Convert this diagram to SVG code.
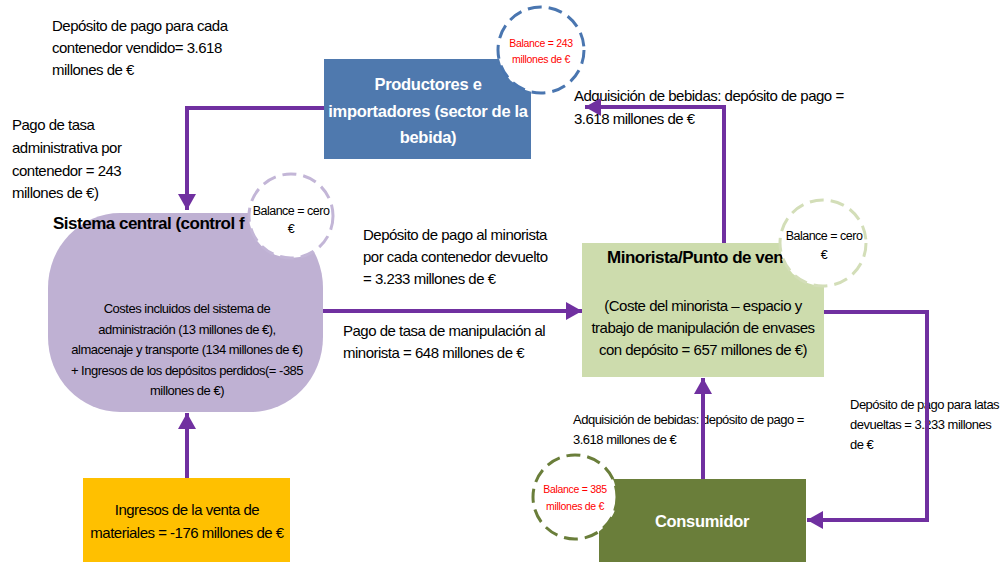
<svg xmlns="http://www.w3.org/2000/svg" width="1003" height="562" viewBox="0 0 1003 562">
<defs>
<style>
text{font-family:"Liberation Sans",Arial,sans-serif;fill:#000}
.l{font-size:15px;letter-spacing:-0.5px}
.s{font-size:13px;letter-spacing:-0.5px}
.b{font-size:16.5px;font-weight:bold;letter-spacing:-0.3px}
.t{font-size:17px;font-weight:bold;letter-spacing:-0.5px}
.w{fill:#fff}
.bal{font-size:12.5px;letter-spacing:-0.5px}
.red{font-size:10.5px;letter-spacing:-0.3px;fill:#ff0000}
.c{text-anchor:middle}
.conn{fill:none;stroke:#7030a0;stroke-width:4;marker-end:url(#ah)}
.circ{fill:#fff;stroke-width:3;stroke-dasharray:14 7}
</style>
<marker id="ah" markerUnits="userSpaceOnUse" markerWidth="17" markerHeight="18" refX="16" refY="9" orient="auto">
<path d="M0,0 L16,9 L0,18 z" fill="#7030a0"/>
</marker>
</defs>

<g id="labels">
<text class="l" x="52" y="31">Depósito de pago para cada</text>
<text class="l" x="52" y="53">contenedor vendido= 3.618</text>
<text class="l" x="52" y="75">millones de €</text>
<text class="l" x="12" y="130">Pago de tasa</text>
<text class="l" x="12" y="153">administrativa por</text>
<text class="l" x="12" y="176">contenedor = 243</text>
<text class="l" x="12" y="198">millones de €)</text>
<text class="l" x="574" y="101">Adquisición de bebidas: depósito de pago =</text>
<text class="l" x="574" y="124">3.618 millones de €</text>
<text class="l" x="363" y="240">Depósito de pago al minorista</text>
<text class="l" x="363" y="262">por cada contenedor devuelto</text>
<text class="l" x="363" y="284">= 3.233 millones de €</text>
<text class="l" x="343" y="336">Pago de tasa de manipulación al</text>
<text class="l" x="343" y="358">minorista = 648 millones de €</text>
<text class="s" x="573" y="424">Adquisición de bebidas: depósito de pago =</text>
<text class="s" x="573" y="444">3.618 millones de €</text>
<text class="s" x="850" y="409">Depósito de pago para latas</text>
<text class="s" x="850" y="429">devueltas = 3.233 millones</text>
<text class="s" x="850" y="449">de €</text>
</g>

<g id="productores">
<rect x="324" y="59" width="207" height="100" fill="#4f79ae"/>
<text class="b w c" x="428" y="90">Productores e</text>
<text class="b w c" x="428" y="117">importadores (sector de la</text>
<text class="b w c" x="428" y="143">bebida)</text>
</g>

<g id="sistema">
<rect x="48" y="213" width="275" height="199" rx="72" ry="75" fill="#bfb1d3"/>
<text class="t" x="53" y="229">Sistema central (control f</text>
<text class="s c" x="187" y="313">Costes incluidos del sistema de</text>
<text class="s c" x="187" y="334">administración (13 millones de €),</text>
<text class="s c" x="187" y="354">almacenaje y transporte (134 millones de €)</text>
<text class="s c" x="187" y="375">+ Ingresos de los depósitos perdidos(= -385</text>
<text class="s c" x="187" y="395">millones de €)</text>
</g>

<g id="minorista">
<rect x="582" y="243" width="242" height="134" fill="#cddcad"/>
<text class="t" x="607" y="263">Minorista/Punto de ven</text>
<text class="l c" x="703" y="311">(Coste del minorista – espacio y</text>
<text class="l c" x="703" y="333">trabajo de manipulación de envases</text>
<text class="l c" x="703" y="355">con depósito = 657 millones de €)</text>
</g>

<g id="consumidor">
<rect x="599" y="479" width="207" height="83" fill="#6a7e3a"/>
<text class="b w c" x="702" y="527">Consumidor</text>
</g>

<g id="ingresos">
<rect x="83" y="478" width="207" height="84" fill="#ffc000"/>
<text class="l c" x="187" y="515">Ingresos de la venta de</text>
<text class="l c" x="187" y="538">materiales = -176 millones de €</text>
</g>

<g id="connectors">
<path class="conn" d="M324,108 H187 V210"/>
<path class="conn" d="M724,243 V107 H585"/>
<path class="conn" d="M323,311 H582"/>
<path class="conn" d="M824,312 H927 V520 H807"/>
<path class="conn" d="M703,479 V378"/>
<path class="conn" d="M187,478 V413"/>
</g>

<g id="balance-productores">
<circle class="circ" cx="541" cy="50" r="43" stroke="#4a76b0"/>
<text class="red c" x="541" y="47">Balance = 243</text>
<text class="red c" x="541" y="63">millones de €</text>
</g>

<g id="balance-sistema">
<circle class="circ" cx="291" cy="216" r="42" stroke="#c3b6d7"/>
<text class="bal c" x="291" y="215">Balance = cero</text>
<text class="bal c" x="291" y="233">€</text>
</g>

<g id="balance-minorista">
<circle class="circ" cx="823" cy="243" r="43" stroke="#d3deb8"/>
<text class="bal c" x="824" y="240">Balance = cero</text>
<text class="bal c" x="824" y="259">€</text>
</g>

<g id="balance-consumidor">
<circle class="circ" cx="575" cy="497" r="42" stroke="#6a7e3a"/>
<text class="red c" x="575" y="493">Balance = 385</text>
<text class="red c" x="575" y="510">millones de €</text>
</g>
</svg>
